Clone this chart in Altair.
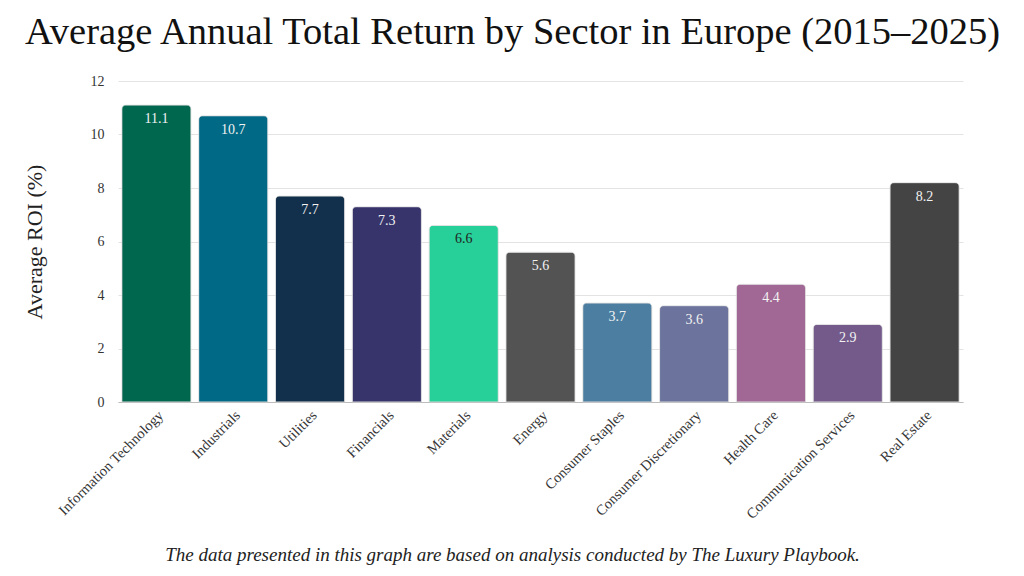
import altair as alt
import pandas as pd

sectors = ["Information Technology", "Industrials", "Utilities", "Financials", "Materials",
           "Energy", "Consumer Staples", "Consumer Discretionary", "Health Care",
           "Communication Services", "Real Estate"]
roi = [11.1, 10.7, 7.7, 7.3, 6.6, 5.6, 3.7, 3.6, 4.4, 2.9, 8.2]
colors = ["#00674f", "#006985", "#12304b", "#37346c", "#26d098", "#535353",
          "#4c7ea2", "#6c749d", "#a26895", "#735a8a", "#444444"]
label_colors = ["#f2f2f2", "#f2f2f2", "#f2f2f2", "#f2f2f2", "#222222", "#f2f2f2",
                "#f2f2f2", "#f2f2f2", "#f2f2f2", "#f2f2f2", "#f2f2f2"]

df = pd.DataFrame({"Sector": sectors, "ROI": roi, "Color": colors, "LabelColor": label_colors})

FONT = "Liberation Serif"

x = alt.X("Sector:N", sort=sectors,
          scale=alt.Scale(paddingInner=0.1, paddingOuter=0.05),
          axis=alt.Axis(labelAngle=-45, labelAlign="right", labelBaseline="top",
                        labelFontSize=14.5, labelColor="#333333", labelFont=FONT,
                        ticks=False, domain=True, domainColor="#bbbbbb", labelPadding=6,
                        title="The data presented in this graph are based on analysis conducted by The Luxury Playbook.",
                        titleFont=FONT, titleFontStyle="italic", titleFontWeight="normal",
                        titleFontSize=19, titleColor="#222222", titleBaseline="alphabetic",
                        titleY=158, titleX=394))
y = alt.Y("ROI:Q", scale=alt.Scale(domain=[0, 12]),
          axis=alt.Axis(values=[0, 2, 4, 6, 8, 10, 12], title="Average ROI (%)",
                        titleFont=FONT, titleFontSize=22, titleFontWeight="normal",
                        titleColor="#222222", titlePadding=44,
                        labelFont=FONT, labelFontSize=14, labelColor="#333333",
                        labelPadding=14, ticks=False, domain=False,
                        gridColor="#e3e3e3"))

bars = alt.Chart(df).mark_bar(cornerRadiusTopLeft=4, cornerRadiusTopRight=4,
                              stroke="#d8d8d8", strokeWidth=0.6).encode(
    x=x, y=y, color=alt.Color("Color:N", scale=None))

labels = alt.Chart(df).mark_text(baseline="top", dy=7, font=FONT, fontSize=14).encode(
    x=alt.X("Sector:N", sort=sectors), y="ROI:Q",
    text=alt.Text("ROI:Q", format=".1f"),
    color=alt.Color("LabelColor:N", scale=None))

chart = alt.layer(bars, labels).properties(
    width=845, height=321,
    background="white",
    title=alt.TitleParams("Average Annual Total Return by Sector in Europe (2015\u20132025)",
                          font=FONT, fontSize=38.5, fontWeight="normal", color="#111111",
                          anchor="middle", dx=-28, offset=22),
    autosize=alt.AutoSizeParams(type="none"),
    padding={"left": 110, "top": 73, "right": 53, "bottom": 166},
).configure_view(stroke=None)

chart.save("out.html", embed_options={"renderer": "svg", "actions": False})
